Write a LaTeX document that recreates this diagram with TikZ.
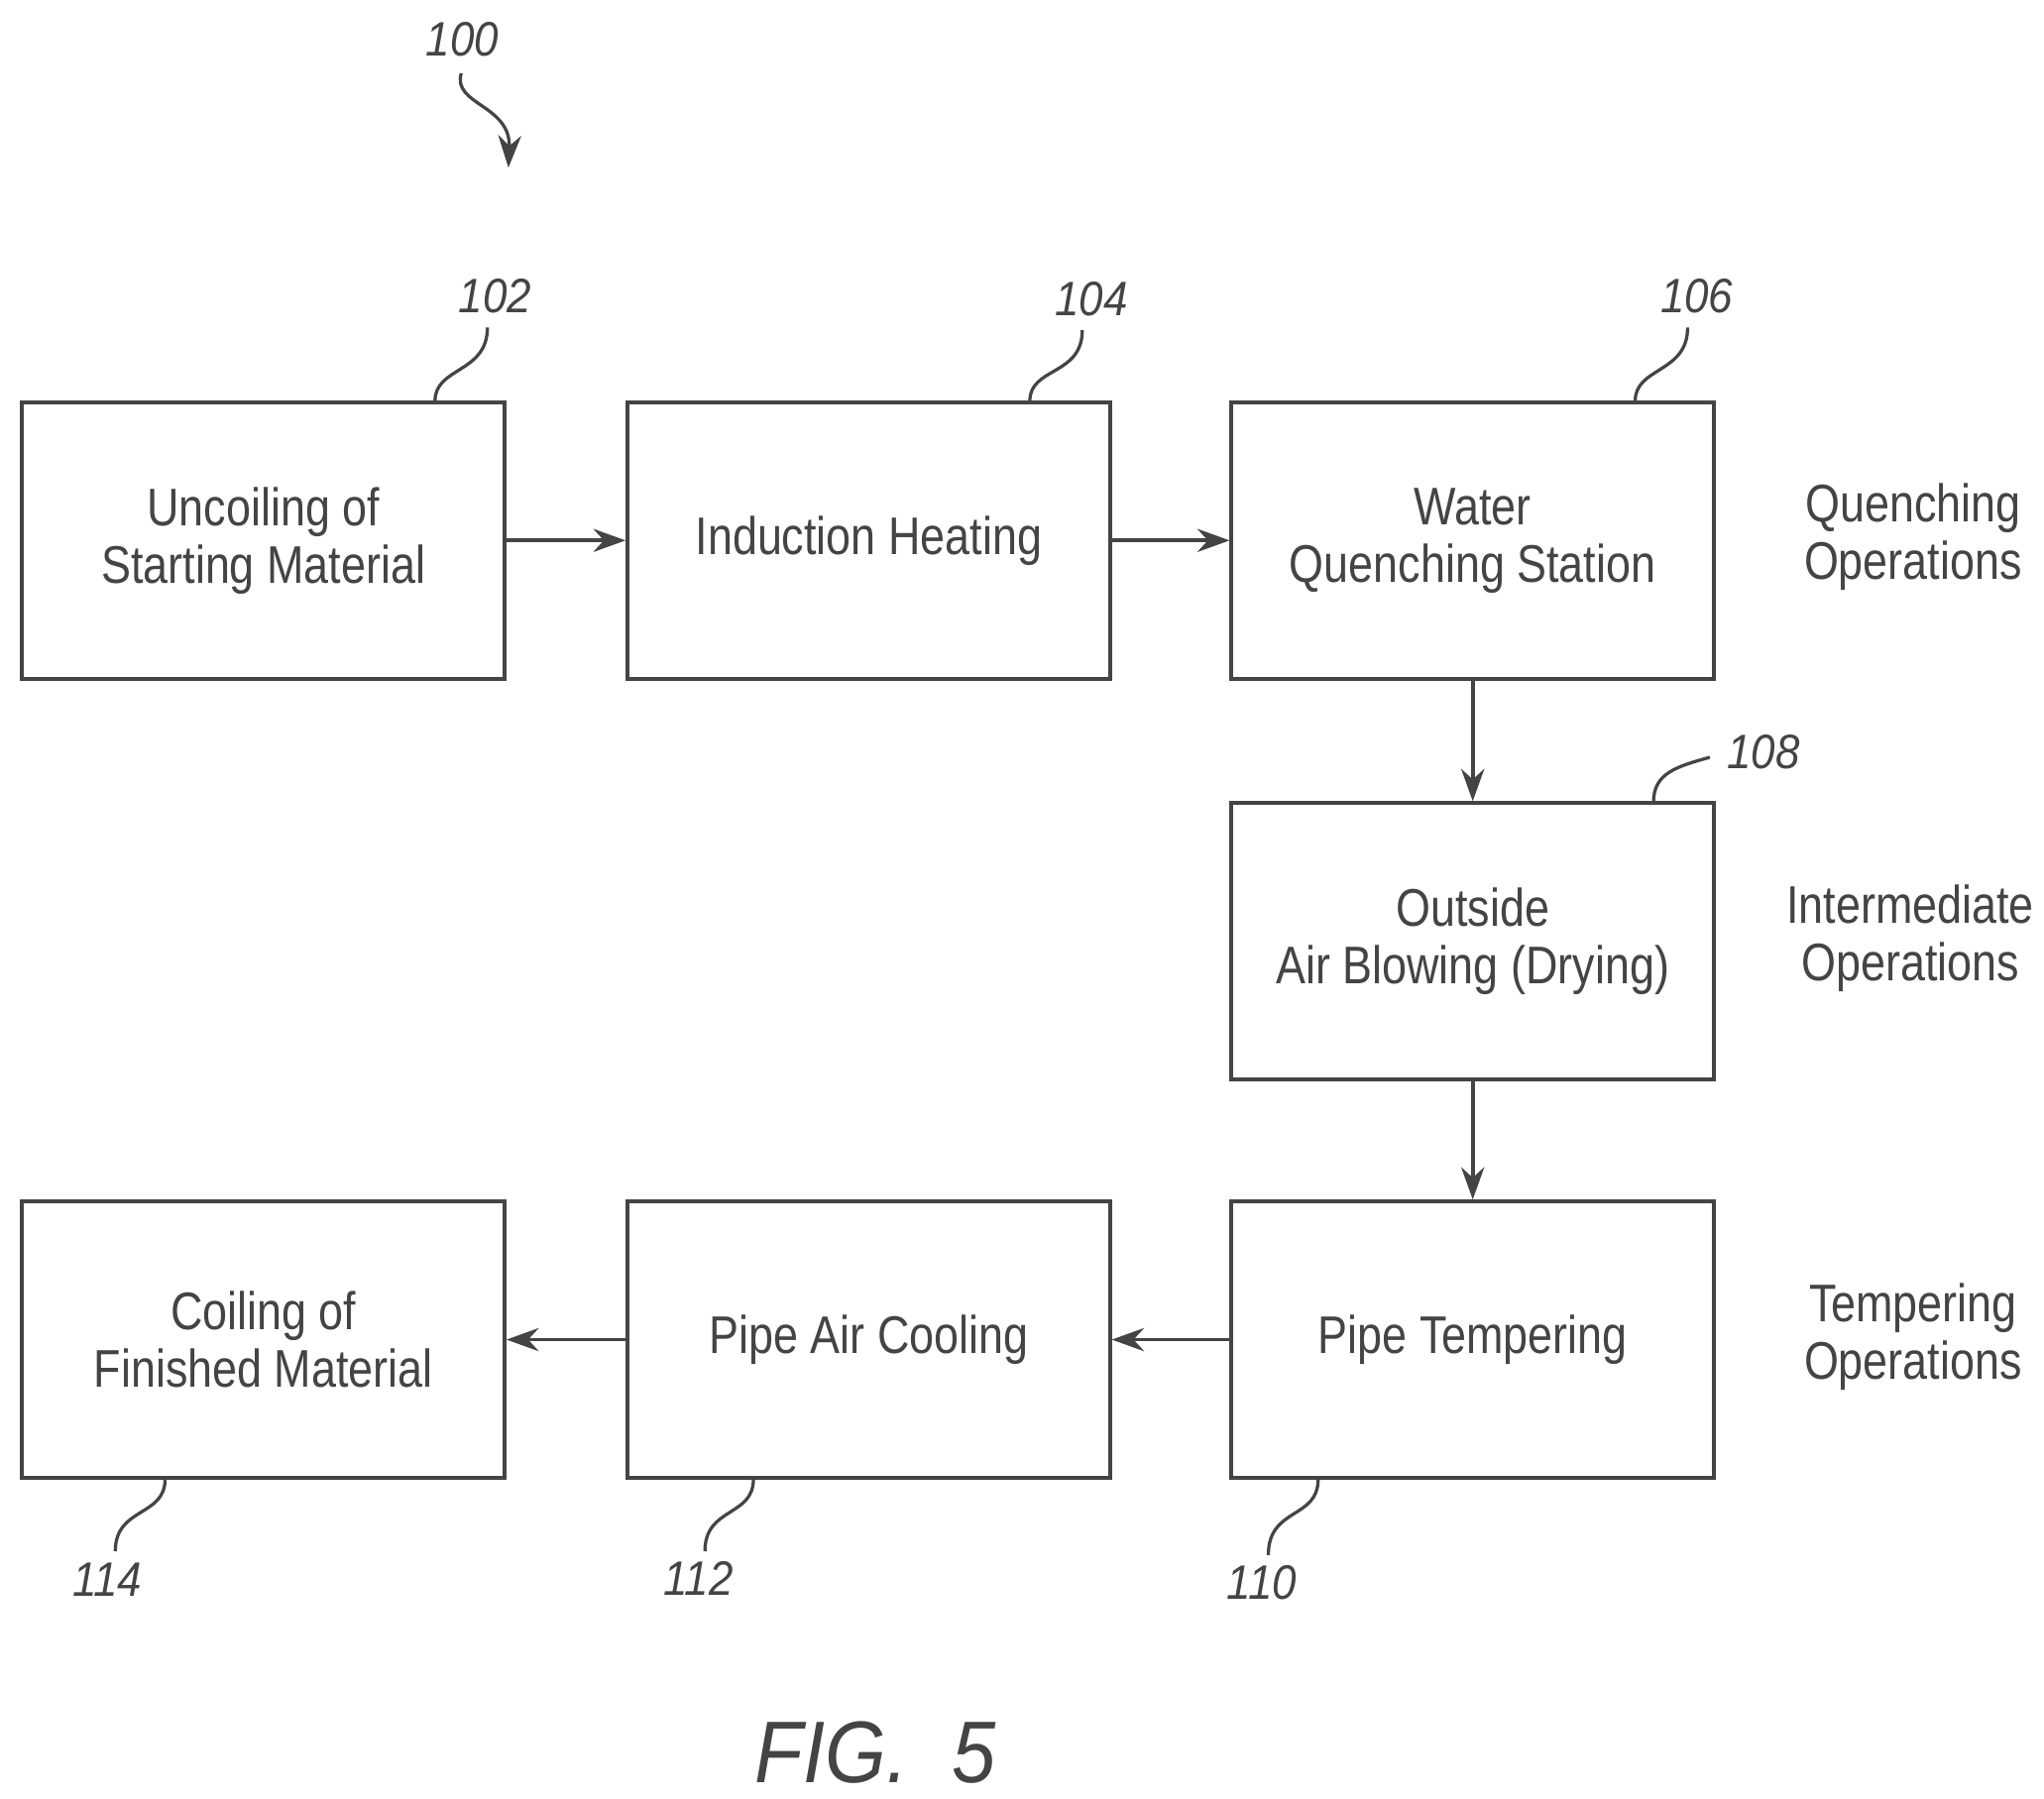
\documentclass[tikz,border=0pt]{standalone}
\usepackage{fontspec}
\setmainfont{Liberation Sans}[FakeStretch=0.84]
\newfontfamily\numfont{Liberation Sans}[FakeStretch=0.9]
\usetikzlibrary{arrows.meta}
\definecolor{ink}{HTML}{444444}
\begin{document}
\begin{tikzpicture}[x=0.01cm,y=-0.01cm,
  box/.style={draw=ink,line width=0.8pt,minimum width=3.68cm,minimum height=2.11cm,align=center,font=\fontsize{11.5}{12.5}\selectfont,text=ink,inner sep=0pt},
  side/.style={align=center,font=\fontsize{11.5}{12.5}\selectfont,text=ink},
  ref/.style={font=\numfont\itshape\fontsize{10.5}{12}\selectfont,text=ink},
  lead/.style={draw=ink,line width=0.7pt},
  flow/.style={draw=ink,line width=0.8pt,-{Stealth[length=7pt,width=5pt]}}]
\useasboundingbox (0,0) rectangle (1560,1373);
\node[box] (b102) at (201,412.5) {Uncoiling of\\Starting Material};
\node[box] (b104) at (663,412.5) {Induction Heating};
\node[box] (b106) at (1124,412.5) {Water\\Quenching Station};
\node[box] (b108) at (1124,718.5) {Outside\\Air Blowing (Drying)};
\node[box] (b110) at (1124,1022.5) {Pipe Tempering};
\node[box] (b112) at (663,1022.5) {Pipe Air Cooling};
\node[box] (b114) at (201,1022.5) {Coiling of\\Finished Material};
\node[side] (s1) at (1460,410) {Quenching\\Operations};
\node[side] (s2) at (1458,716) {Intermediate\\Operations};
\node[side] (s3) at (1460,1020) {Tempering\\Operations};
\draw[flow] (b102) -- (b104);
\draw[flow] (b104) -- (b106);
\draw[flow] (b106) -- (b108);
\draw[flow] (b108) -- (b110);
\draw[flow] (b110) -- (b112);
\draw[flow] (b112) -- (b114);
\node[ref] (r100) at (353,30) {100};
\node[ref] (r102) at (378,226) {102};
\node[ref] (r104) at (833,228) {104};
\node[ref] (r106) at (1295,226) {106};
\node[ref] (r108) at (1346,574) {108};
\node[ref] (r110) at (963,1208) {110};
\node[ref] (r112) at (533,1205) {112};
\node[ref] (r114) at (82,1206) {114};
\coordinate (a102) at (332,306); \coordinate (e102) at (372,250);
\coordinate (a104) at (786,306); \coordinate (e104) at (826,252);
\coordinate (a106) at (1248,306); \coordinate (e106) at (1288,250);
\coordinate (a108) at (1262,612); \coordinate (e108) at (1305,578);
\coordinate (a110) at (1006,1129); \coordinate (e110) at (968,1187);
\coordinate (a112) at (575,1129); \coordinate (e112) at (538,1184);
\coordinate (a114) at (126,1129); \coordinate (e114) at (88,1184);
\draw[lead] (a102) .. controls (332,280) and (372,285) .. (e102);
\draw[lead] (a104) .. controls (786,280) and (826,287) .. (e104);
\draw[lead] (a106) .. controls (1248,280) and (1288,285) .. (e106);
\draw[lead] (a108) .. controls (1262,590) and (1280,585) .. (e108);
\draw[lead] (a110) .. controls (1006,1160) and (968,1150) .. (e110);
\draw[lead] (a112) .. controls (575,1158) and (538,1150) .. (e112);
\draw[lead] (a114) .. controls (126,1158) and (88,1150) .. (e114);
\coordinate (t100) at (352,56); \coordinate (h100) at (388,128);
\draw[flow,line width=0.7pt] (t100) .. controls (345,80) and (390,80) .. (h100);
\node[font=\numfont\itshape\fontsize{19}{22}\selectfont,text=ink] (fig) at (668,1338) {FIG.\ \ 5};
\end{tikzpicture}
\end{document}
